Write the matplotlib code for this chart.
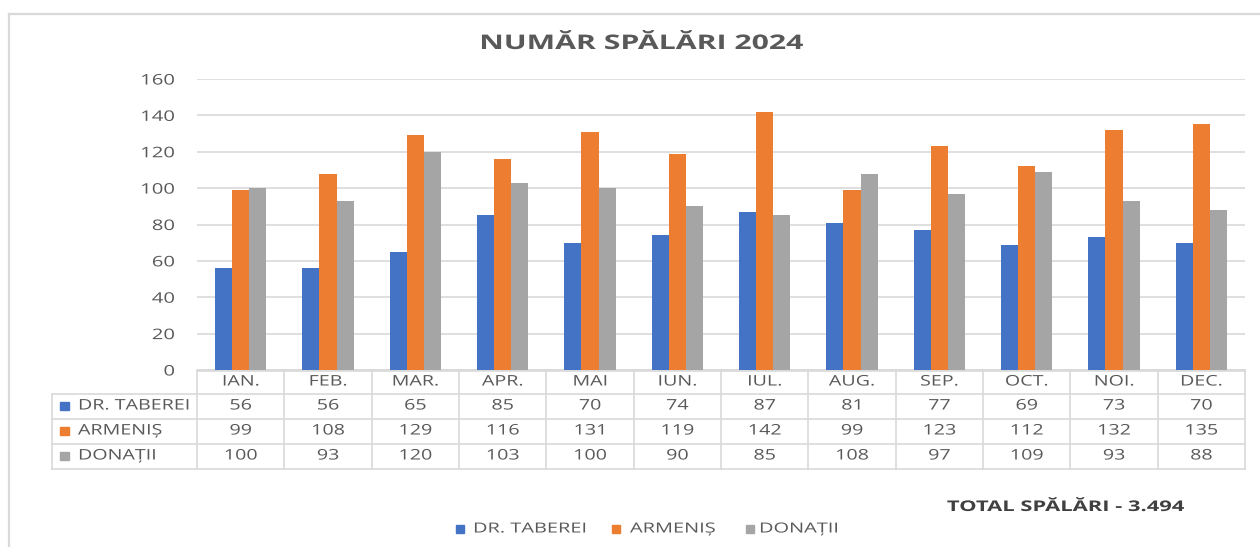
import matplotlib
matplotlib.use("Agg")
import matplotlib.pyplot as plt
from matplotlib.patches import Rectangle
from matplotlib.lines import Line2D
from matplotlib.patheffects import AbstractPathEffect
from matplotlib.transforms import Affine2D
import numpy as np

months = ["IAN.", "FEB.", "MAR.", "APR.", "MAI", "IUN.", "IUL.", "AUG.", "SEP.", "OCT.", "NOI.", "DEC."]
series_names = ["DR. TABEREI", "ARMENIȘ", "DONAȚII"]
dr_taberei = [56, 56, 65, 85, 70, 74, 87, 81, 77, 69, 73, 70]
armenis = [99, 108, 129, 116, 131, 119, 142, 99, 123, 112, 132, 135]
donatii = [100, 93, 120, 103, 100, 90, 85, 108, 97, 109, 93, 88]
yticks = [0, 20, 40, 60, 80, 100, 120, 140, 160]
title = "NUMĂR SPĂLĂRI 2024"
total_text = "TOTAL SPĂLĂRI - 3.494"

colors = ["#4472C4", "#ED7D31", "#A5A5A5"]
series = [dr_taberei, armenis, donatii]
txt = "#595959"
grid = "#D9D9D9"

plt.rcParams['font.family'] = ['Open Sans', 'DejaVu Sans']


class HStretch(AbstractPathEffect):
    """Draw text glyphs widened horizontally, keeping the text alignment."""

    def __init__(self, sx, ha="center"):
        super().__init__()
        self.sx = sx
        self.frac = {"left": 0.0, "center": 0.5, "right": 1.0}[ha]

    def draw_path(self, renderer, gc, tpath, affine, rgbFace=None):
        x0 = affine.get_matrix()[0, 2]
        bb = tpath.get_extents(affine)
        w = bb.x1 - x0
        t = affine + Affine2D().translate(-x0, 0).scale(self.sx, 1).translate(
            x0 - (self.sx - 1) * w * self.frac, 0)
        renderer.draw_path(gc, tpath, t, rgbFace)


W, H = 1260, 547
fig = plt.figure(figsize=(W / 100, H / 100), dpi=100)


def fx(px):
    return px / W


def fy(py):
    return 1 - py / H


def ftext(x, y, s, ha="center", sx=1.35, **kw):
    t = fig.text(fx(x), fy(y), s, ha=ha, va="center", **kw)
    t.set_path_effects([HStretch(sx, ha)])
    return t


# outer frame
fig.add_artist(Line2D([fx(9), 1.0], [fy(14), fy(14)], color=grid, lw=1.6, transform=fig.transFigure))
fig.add_artist(Line2D([fx(9), fx(9)], [fy(14), 0.0], color=grid, lw=1.6, transform=fig.transFigure))

ax_l, ax_r, ax_t, ax_b = 197, 1245, 79, 370
ax = fig.add_axes([fx(ax_l), fy(ax_b), fx(ax_r - ax_l), (ax_b - ax_t) / H])

n = len(months)
x = np.arange(n)
bw = 0.195
for i, (vals, c) in enumerate(zip(series, colors)):
    ax.bar(x + (i - 1) * bw, vals, width=bw, color=c, zorder=3)

ax.set_xlim(-0.5, n - 0.5)
ax.set_ylim(0, 160)
ax.set_yticks(yticks)
ax.set_yticklabels([str(v) for v in yticks], color=txt, fontsize=10.5)
for lab in ax.get_yticklabels():
    lab.set_path_effects([HStretch(1.39, "right")])
ax.set_xticks([])
ax.yaxis.grid(True, color=grid, lw=1.2, zorder=0)
ax.tick_params(axis='y', length=0, pad=16)
for s in ["top", "right", "left"]:
    ax.spines[s].set_visible(False)
ax.spines["bottom"].set_color(grid)
ax.spines["bottom"].set_linewidth(1.2)

# data table
rows_y = [370.5, 393.5, 418.5, 443.5, 468.5]
lab_l = 52
fs_tab = 10.5
sx_tab = 1.35
fig.add_artist(Line2D([fx(ax_l), fx(ax_r)], [fy(rows_y[0]), fy(rows_y[0])], color=grid, lw=1.2, transform=fig.transFigure))
for yy in rows_y[1:]:
    fig.add_artist(Line2D([fx(lab_l), fx(ax_r)], [fy(yy), fy(yy)], color=grid, lw=1.2, transform=fig.transFigure))
catw = (ax_r - ax_l) / n
for k in range(n + 1):
    xx = ax_l + k * catw
    fig.add_artist(Line2D([fx(xx), fx(xx)], [fy(rows_y[0]), fy(rows_y[-1])], color=grid, lw=1.2, transform=fig.transFigure))
fig.add_artist(Line2D([fx(lab_l), fx(lab_l)], [fy(rows_y[1]), fy(rows_y[-1])], color=grid, lw=1.2, transform=fig.transFigure))

for k, m in enumerate(months):
    cx = ax_l + (k + 0.5) * catw
    ftext(cx, (rows_y[0] + rows_y[1]) / 2, m, sx=sx_tab, color=txt, fontsize=fs_tab)
for r, (name, vals, c) in enumerate(zip(series_names, series, colors)):
    cy = (rows_y[r + 1] + rows_y[r + 2]) / 2
    fig.add_artist(Rectangle((fx(60), fy(cy + 4)), fx(9), 8 / H, color=c, transform=fig.transFigure))
    ftext(78, cy, name, ha="left", sx=sx_tab, color=txt, fontsize=fs_tab)
    for k, v in enumerate(vals):
        cx = ax_l + (k + 0.5) * catw
        ftext(cx, cy, str(v), sx=sx_tab, color=txt, fontsize=fs_tab)

# title
ftext(641, 44, title, sx=1.5, color=txt, fontsize=14.5, fontweight="bold")
# total
ftext(1066, 507, total_text, sx=1.49, color="#404040", fontsize=10.6, fontweight="bold")

# legend (drawn like the Excel legend)
leg_sq_x = [456, 612, 746]
leg_tx_x = [473, 630, 759]
leg_y = 529
for name, c, sqx, tx in zip(series_names, colors, leg_sq_x, leg_tx_x):
    fig.add_artist(Rectangle((fx(sqx), fy(leg_y + 4)), fx(8), 8 / H, color=c, transform=fig.transFigure))
    ftext(tx, leg_y, name, ha="left", sx=1.44, color=txt, fontsize=10)

fig.savefig("out.png", dpi=100)
